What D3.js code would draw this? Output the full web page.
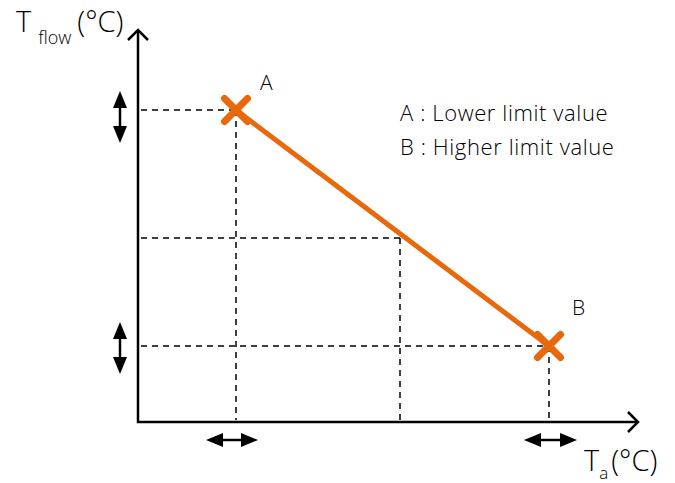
<!DOCTYPE html>
<html>
  <head>
    <meta charset="utf-8" />
    <title>Heating curve limits</title>
    <script src="https://cdn.jsdelivr.net/npm/d3@7"></script>
    <style type="text/css">
      html, body {
        margin: 0;
        padding: 0;
        background: #fff;
      }
      text {
        font-family: "Open Sans", "DejaVu Sans", sans-serif;
        font-weight: 300;
        fill: #000;
      }
      .axis-line {
        stroke: #000;
        stroke-width: 2.5;
        fill: none;
      }
      .guide {
        stroke: #000;
        stroke-width: 1.5;
        stroke-dasharray: 6,5;
        fill: none;
      }
      .curve {
        stroke: #e8680c;
        stroke-width: 5;
        fill: none;
      }
      .cross {
        stroke: #e8680c;
        stroke-width: 7;
        stroke-linecap: round;
      }
    </style>
  </head>
  <body>
    <svg id="chart" width="675" height="483"></svg>

    <script type="text/javascript">

    // limit points (arbitrary units)
    var pointNames = ['A', 'B'],
        pointTa    = [98, 411],
        pointTflow = [312, 76];

    // dashed read-off point in the middle of the curve
    var midTa = 262,
        midTflow = 184;

    // adjustable ranges shown by the double arrows
    var taRanges    = [[68, 120], [386, 439]],
        tflowRanges = [[279, 331], [48, 100]];

    var legendLines = ['A : Lower limit value', 'B : Higher limit value'];

    var svg = d3.select('#chart');

    var x = d3.scaleLinear().domain([0, 500]).range([138, 638]),
        y = d3.scaleLinear().domain([0, 392]).range([422, 30]);

    var points = pointNames.map(function(n, i) {
      return { name: n, ta: pointTa[i], tf: pointTflow[i] };
    });

    // dashed guides
    var guides = points.concat([{ ta: midTa, tf: midTflow }]);
    guides.forEach(function(d) {
      svg.append('line').attr('class', 'guide')
         .attr('x1', x(0) + 3).attr('x2', x(d.ta))
         .attr('y1', y(d.tf)).attr('y2', y(d.tf));
      svg.append('line').attr('class', 'guide')
         .attr('x1', x(d.ta)).attr('x2', x(d.ta))
         .attr('y1', y(d.tf)).attr('y2', y(0) - 2);
    });

    // axes with open arrow heads
    svg.append('path').attr('class', 'axis-line')
       .attr('d', 'M' + x(0) + ',' + y(392) + 'V' + y(0) + 'H' + x(500));
    svg.append('path').attr('class', 'axis-line')
       .attr('d', 'M' + (x(0) - 10) + ',' + (y(392) + 10) + 'L' + x(0) + ',' + y(392) + 'L' + (x(0) + 10) + ',' + (y(392) + 10));
    svg.append('path').attr('class', 'axis-line')
       .attr('d', 'M' + (x(500) - 10) + ',' + (y(0) - 10) + 'L' + x(500) + ',' + y(0) + 'L' + (x(500) - 10) + ',' + (y(0) + 10));

    // curve between A and B
    svg.append('path').attr('class', 'curve')
       .attr('d', d3.line().x(function(d) { return x(d.ta); }).y(function(d) { return y(d.tf); })(points));

    // crosses
    var cs = 11.5;
    points.forEach(function(d) {
      var cx = x(d.ta), cy = y(d.tf);
      svg.append('line').attr('class', 'cross')
         .attr('x1', cx - cs).attr('y1', cy - cs).attr('x2', cx + cs).attr('y2', cy + cs);
      svg.append('line').attr('class', 'cross')
         .attr('x1', cx + cs).attr('y1', cy - cs).attr('x2', cx - cs).attr('y2', cy + cs);
    });

    // point labels
    svg.append('text').attr('x', x(pointTa[0]) + 24).attr('y', y(pointTflow[0]) - 20)
       .style('font-size', '21px').text(pointNames[0]);
    svg.append('text').attr('x', x(pointTa[1]) + 23).attr('y', y(pointTflow[1]) - 31)
       .style('font-size', '21px').text(pointNames[1]);

    // double arrows
    var hl = 17, hw = 7;
    function vArrow(cx, y1, y2) {
      svg.append('line').attr('x1', cx).attr('x2', cx).attr('y1', y1 + hl - 2).attr('y2', y2 - hl + 2)
         .attr('stroke', '#000').attr('stroke-width', 2.5);
      svg.append('path').attr('fill', '#000')
         .attr('d', 'M' + cx + ',' + y1 + 'L' + (cx + hw) + ',' + (y1 + hl) + 'L' + (cx - hw) + ',' + (y1 + hl) + 'Z');
      svg.append('path').attr('fill', '#000')
         .attr('d', 'M' + cx + ',' + y2 + 'L' + (cx + hw) + ',' + (y2 - hl) + 'L' + (cx - hw) + ',' + (y2 - hl) + 'Z');
    }
    function hArrow(cy, x1, x2) {
      svg.append('line').attr('y1', cy).attr('y2', cy).attr('x1', x1 + hl - 2).attr('x2', x2 - hl + 2)
         .attr('stroke', '#000').attr('stroke-width', 2.5);
      svg.append('path').attr('fill', '#000')
         .attr('d', 'M' + x1 + ',' + cy + 'L' + (x1 + hl) + ',' + (cy - hw) + 'L' + (x1 + hl) + ',' + (cy + hw) + 'Z');
      svg.append('path').attr('fill', '#000')
         .attr('d', 'M' + x2 + ',' + cy + 'L' + (x2 - hl) + ',' + (cy - hw) + 'L' + (x2 - hl) + ',' + (cy + hw) + 'Z');
    }
    tflowRanges.forEach(function(r) { vArrow(120, y(r[1]), y(r[0])); });
    taRanges.forEach(function(r) { hArrow(440, x(r[0]), x(r[1])); });

    // legend
    svg.selectAll('.legend')
       .data(legendLines)
       .enter()
       .append('text')
       .attr('class', 'legend')
       .attr('x', 400)
       .attr('y', function(d, i) { return 121 + i * 34; })
       .style('font-size', '22px')
       .style('letter-spacing', '0.6px')
       .text(function(d) { return d; });

    // axis titles
    var yt = svg.append('text').attr('x', 16).attr('y', 32).style('font-size', '29px');
    yt.append('tspan').text('T');
    yt.append('tspan').attr('dx', 7).attr('dy', 12).style('font-size', '18px').text('flow');
    yt.append('tspan').attr('dx', 6).attr('dy', -12).text('(°C)');

    var xt = svg.append('text').attr('x', 584).attr('y', 471).style('font-size', '29px');
    xt.append('tspan').text('T');
    xt.append('tspan').attr('dy', 8).style('font-size', '17px').text('a');
    xt.append('tspan').attr('dx', 3).attr('dy', -8).text('(°C)');

    </script>
  </body>
</html>
